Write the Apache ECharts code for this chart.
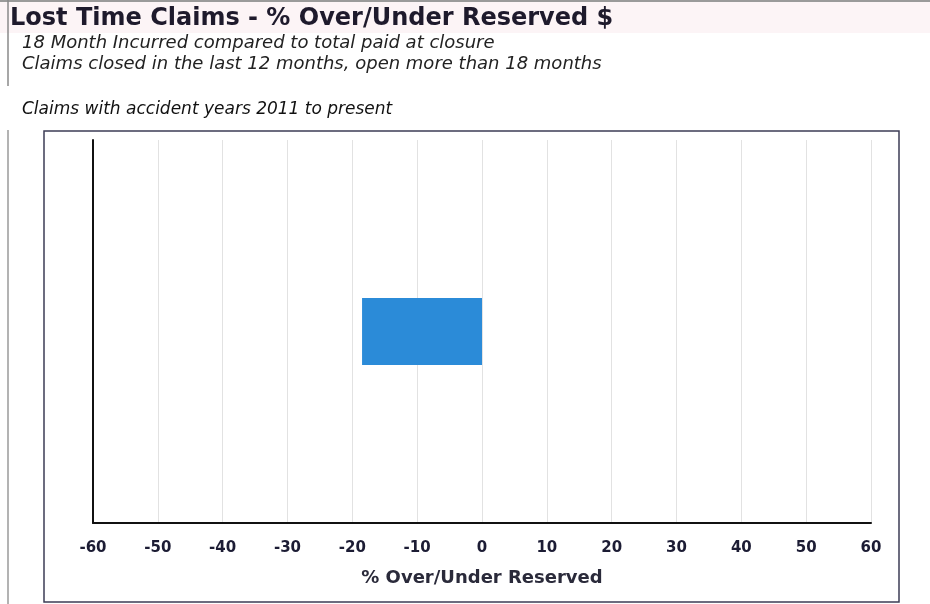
<!DOCTYPE html>
<html>
<head>
<meta charset="utf-8">
<script src="https://cdn.jsdelivr.net/npm/echarts@6/dist/echarts.min.js"></script>
<style>
  html, body { margin: 0; padding: 0; background: #ffffff; }
  #chart { width: 930px; height: 604px; }
</style>
</head>
<body>
<div id="chart"></div>
<script>
// Over/under reserved percentage for lost time claims
const categories = ['Lost Time'];
const pctOverUnder = [-18.5];
const axisMin = -60;
const axisMax = 60;
const axisStep = 10;

const titleText = 'Lost Time Claims - % Over/Under Reserved $';
const subLines = [
  '18 Month Incurred compared to total paid at closure',
  'Claims closed in the last 12 months, open more than 18 months'
];
const scopeNote = 'Claims with accident years 2011 to present';
const xAxisName = '% Over/Under Reserved';

const wideFont = "'DejaVu Sans', 'Open Sans', sans-serif";

const chart = echarts.init(document.getElementById('chart'), null, { renderer: 'canvas' });

chart.setOption({
  animation: false,
  backgroundColor: '#ffffff',
  grid: { left: 93, right: 59, top: 140, bottom: 81, containLabel: false },
  xAxis: {
    type: 'value',
    min: axisMin,
    max: axisMax,
    interval: axisStep,
    name: xAxisName,
    nameLocation: 'middle',
    nameGap: 46,
    nameTextStyle: { fontFamily: wideFont, fontWeight: 'bold', fontSize: 18, color: '#2a2a3a' },
    axisLine: { show: true, onZero: false, lineStyle: { color: '#111111', width: 2 } },
    axisTick: { show: false },
    axisLabel: {
      margin: 18,
      fontFamily: wideFont,
      fontWeight: 'bold',
      fontSize: 15,
      color: '#1c1c34'
    },
    splitLine: { show: true, lineStyle: { color: '#e2e2e2', width: 1 } }
  },
  yAxis: {
    type: 'category',
    data: categories,
    axisLine: { show: true, onZero: false, lineStyle: { color: '#111111', width: 2 } },
    axisTick: { show: false },
    axisLabel: { show: false },
    splitLine: { show: false }
  },
  series: [{
    type: 'bar',
    data: pctOverUnder,
    barWidth: '17.5%',
    itemStyle: { color: '#2b8bd8' }
  }],
  graphic: [
    // faint tinted title band
    { type: 'rect', z: -10, shape: { x: 0, y: 2, width: 930, height: 31 },
      style: { fill: '#fcf4f6' } },
    // thin rule along the top edge
    { type: 'line', shape: { x1: 0, y1: 1, x2: 930, y2: 1 },
      style: { stroke: '#9a9a9a', lineWidth: 2 } },
    // left margin rules
    { type: 'line', shape: { x1: 8, y1: 0, x2: 8, y2: 86 },
      style: { stroke: '#8a8a8a', lineWidth: 1.5 } },
    { type: 'line', shape: { x1: 8, y1: 130, x2: 8, y2: 604 },
      style: { stroke: '#9a9a9a', lineWidth: 1.5 } },
    // chart frame
    { type: 'rect', shape: { x: 44, y: 131, width: 855, height: 471 },
      style: { fill: null, stroke: '#3d3d55', lineWidth: 1.5 } },
    { type: 'text', left: 10, top: 7,
      style: { text: titleText, fontFamily: wideFont, fontWeight: 'bold', fontSize: 24, fill: '#1e1a2c' } },
    { type: 'text', left: 22, top: 34,
      style: { text: subLines[0], fontFamily: wideFont, fontStyle: 'italic', fontSize: 18, fill: '#222222' } },
    { type: 'text', left: 22, top: 55,
      style: { text: subLines[1], fontFamily: wideFont, fontStyle: 'italic', fontSize: 18, fill: '#222222' } },
    { type: 'text', left: 22, top: 101,
      style: { text: scopeNote, fontFamily: wideFont, fontStyle: 'italic', fontSize: 17, fill: '#111111' } }
  ]
});
</script>
</body>
</html>
